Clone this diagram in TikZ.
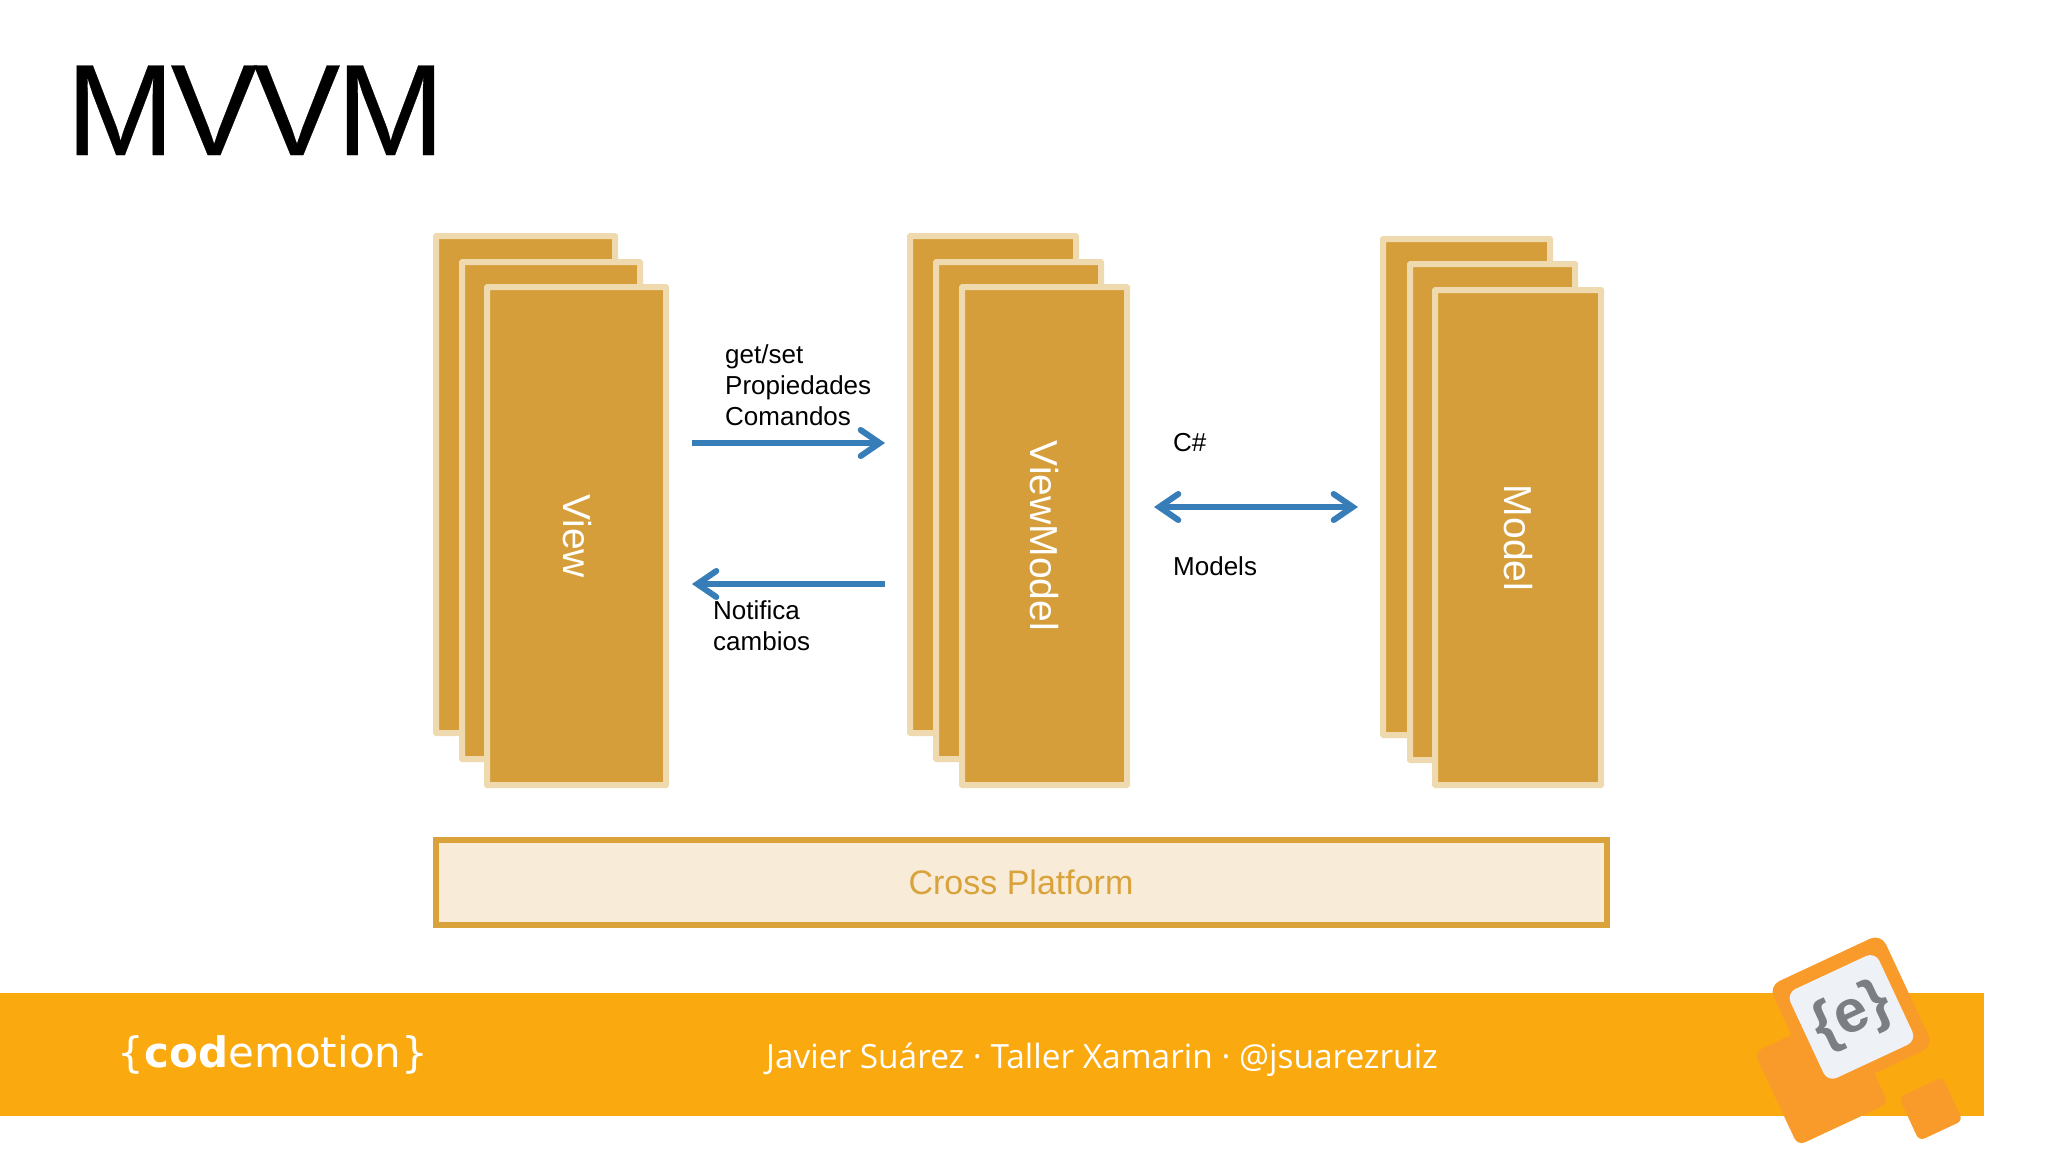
\documentclass[tikz,border=0pt]{standalone}
\usepackage{fontspec}
\setmainfont{Liberation Sans}
\newfontfamily\footfont{Open Sans}
\newfontfamily\brandfont{DejaVu Sans}
\usetikzlibrary{arrows.meta}
\definecolor{gold}{HTML}{D59E3A}
\definecolor{goldedge}{HTML}{EFD9AE}
\definecolor{crossfill}{HTML}{F8ECD8}
\definecolor{crossedge}{HTML}{D9A23A}
\definecolor{band}{HTML}{FAA90F}
\definecolor{blueline}{HTML}{377DB8}
\definecolor{logoorange}{HTML}{F99B2B}
\definecolor{logogrey}{HTML}{7B7F83}
\definecolor{logopaper}{HTML}{EEF1F6}
\tikzset{
 x=1pt,y=-1pt,
 card/.style={draw=goldedge,fill=gold,line width=6pt,rounded corners=0.5pt},
 rot/.style={text=white,font=\fontsize{39}{39}\selectfont,rotate=-90},
 lab/.style={font=\fontsize{26}{31}\selectfont,align=left,anchor=north west,inner sep=0pt,text=black},
 flow/.style={draw=blueline,line width=5.5pt,-{Straight Barb[length=19pt,width=26pt,line width=6pt,line cap=round,line join=miter]}},
 flowb/.style={draw=blueline,line width=5.5pt,{Straight Barb[length=19pt,width=26pt,line width=6pt,line cap=round,line join=miter]}-{Straight Barb[length=19pt,width=26pt,line width=6pt,line cap=round,line join=miter]}},
}
\begin{document}
\begin{tikzpicture}
\useasboundingbox (0,0) rectangle (2048,1152);
\fill[white] (0,0) rectangle (2048,1152);
\node[anchor=base west,inner sep=0pt,font=\addfontfeatures{LetterSpace=-3,FakeBold=0.25}\fontsize{130}{130}\selectfont] (title) at (66,155) {MVVM};
% View
\draw[card] (436,236) rectangle (615,733);
\draw[card] (462,262) rectangle (640,759);
\draw[card] (487,287) rectangle (666,785);
\node[rot] (view) at (577,536) {View};
% ViewModel
\draw[card] (910,236) rectangle (1076,733);
\draw[card] (936,262) rectangle (1101,759);
\draw[card] (962,287) rectangle (1127,785);
\node[rot] (vm) at (1044,536) {ViewModel};
% Model
\draw[card] (1383,239) rectangle (1550,735);
\draw[card] (1410,264) rectangle (1575,760);
\draw[card] (1435,290) rectangle (1601,785);
\node[rot] (model) at (1518,538) {Model};
% Cross
\node[draw=crossedge,fill=crossfill,line width=6pt,minimum width=1171pt,minimum height=85pt,inner sep=0pt,text=crossedge,font=\fontsize{34}{34}\selectfont,anchor=north west] (cross) at (432.5,837) {Cross Platform};
% arrows
\coordinate (a1s) at (692,443); \coordinate (a1e) at (885,443);
\coordinate (a2s) at (885,584); \coordinate (a2e) at (692,584);
\coordinate (a3s) at (1154,507); \coordinate (a3e) at (1358,507);
\draw[flow] (a1s) -- (a1e);
\draw[flow] (a2s) -- (a2e);
\draw[flowb] (a3s) -- (a3e);
\node[lab] (l1) at (725,344) {get/set\\Propiedades\\Comandos};
\node[lab] (l2) at (713,600) {Notifica\\cambios};
\node[lab] (l3) at (1173,433) {C\#};
\node[lab] (l4) at (1173,556) {Models};
% band
\fill[band] (0,993) rectangle (1984,1116);
\node[text=white,inner sep=0pt,font=\footfont\fontsize{33.4}{33}\selectfont] (foot) at (1102,1060) {Javier Suárez · Taller Xamarin · @jsuarezruiz};
\node[text=white,inner sep=0pt,font=\brandfont\fontsize{42}{42}\selectfont] (code) at (273,1055) {\{{\bfseries cod}emotion\}};
% logo
\begin{scope}[shift={(1851,1016)},rotate=25]
\fill[logoorange,rounded corners=8pt] (-103,-8) rectangle (-3,95);
\fill[logoorange,rounded corners=12pt] (-62,-62) rectangle (62,62);
\fill[logopaper,rounded corners=10pt] (-49,-48) rectangle (49,50);
\fill[logoorange,rounded corners=6pt] (9,94) rectangle (57,142);
\end{scope}
\node[text=logogrey,rotate=25,inner sep=0pt,font=\fontsize{60}{60}\selectfont\bfseries] (logo) at (1852,1016) {\{e\}};
\end{tikzpicture}
\end{document}
